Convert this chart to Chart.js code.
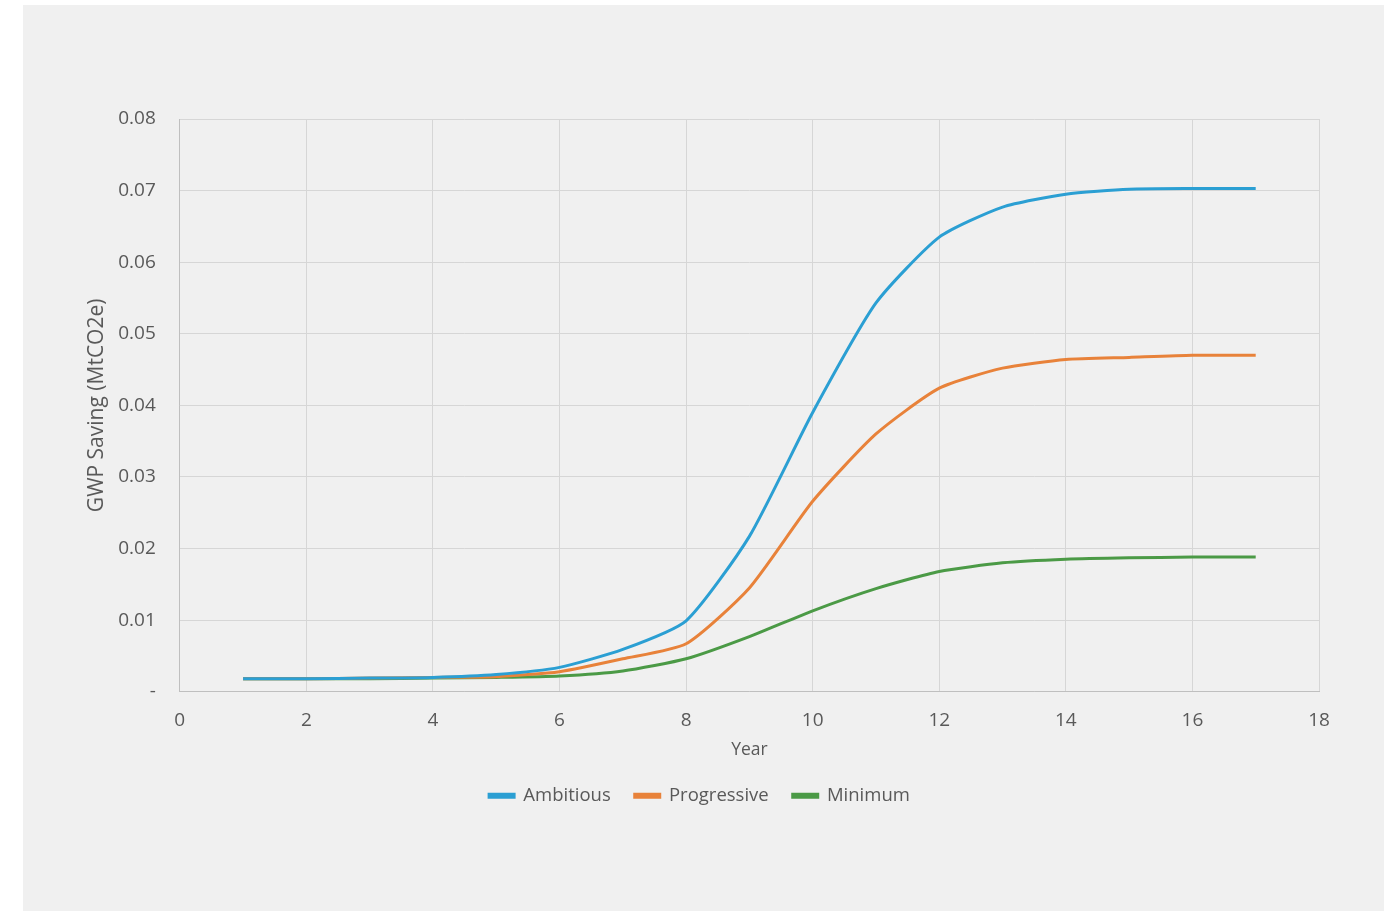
<!DOCTYPE html>
<html>
<head>
  <title>GWP Saving</title>
  <script src="https://cdn.jsdelivr.net/npm/chart.js"></script>
  <style>
    body { margin: 0; background: #fff; }
    #wrap { position: absolute; left: 23px; top: 5px; width: 1361px; height: 906px; background: #f0f0f0; }
  </style>
</head>
<body>
  <div id="wrap"><canvas id="gwpChart"></canvas></div>

  <script>
    const years = [1, 2, 3, 4, 5, 6, 7, 8, 9, 10, 11, 12, 13, 14, 15, 16, 17];
    const ambitious = [0.0018, 0.0018, 0.0019, 0.002, 0.0024, 0.0034, 0.0059, 0.0099, 0.0217, 0.039, 0.0543, 0.0635, 0.0677, 0.0695, 0.0702, 0.0703, 0.0703];
    const progressive = [0.0018, 0.0018, 0.0019, 0.002, 0.0021, 0.0028, 0.0046, 0.0067, 0.0145, 0.0266, 0.036, 0.0424, 0.0452, 0.0464, 0.0467, 0.047, 0.047];
    const minimum = [0.0018, 0.0018, 0.0018, 0.0019, 0.002, 0.0022, 0.0029, 0.0046, 0.0077, 0.0113, 0.0144, 0.0168, 0.018, 0.0185, 0.0187, 0.0188, 0.0188];

    const toPoints = arr => arr.map((v, i) => ({ x: years[i], y: v }));

    Chart.defaults.font.family = '"Open Sans", sans-serif';
    Chart.defaults.font.size = 19;
    Chart.defaults.color = '#595959';

    const ctx = document.getElementById('gwpChart').getContext('2d');
    new Chart(ctx, {
      type: 'line',
      data: {
        datasets: [
          { label: 'Ambitious', data: toPoints(ambitious), borderColor: '#2b9fd3', backgroundColor: '#2b9fd3' },
          { label: 'Progressive', data: toPoints(progressive), borderColor: '#e8823a', backgroundColor: '#e8823a' },
          { label: 'Minimum', data: toPoints(minimum), borderColor: '#4b9a46', backgroundColor: '#4b9a46' }
        ]
      },
      options: {
        responsive: true,
        maintainAspectRatio: false,
        animation: false,
        elements: {
          line: { borderWidth: 3, tension: 0.2 },
          point: { radius: 0 }
        },
        layout: { padding: { left: 57, right: 65, top: 114, bottom: 96 } },
        plugins: {
          tooltip: { enabled: false },
          legend: {
            position: 'bottom',
            labels: { boxWidth: 25, boxHeight: 3, padding: 24, font: { size: 18.5 } }
          }
        },
        scales: {
          x: {
            type: 'linear',
            min: 0, max: 18,
            ticks: { stepSize: 2, padding: 17 },
            grid: { color: '#d6d6d6', drawTicks: false },
            border: { color: '#bfbfbf' },
            title: { display: true, text: 'Year', font: { size: 17.5 }, padding: { top: 7, bottom: 2 } },
            afterFit: scale => { scale.height -= 16; }
          },
          y: {
            min: 0, max: 0.08,
            ticks: {
              stepSize: 0.01, padding: 24,
              callback: v => v === 0 ? '-' : v.toFixed(2)
            },
            grid: { color: '#d6d6d6', drawTicks: false },
            border: { color: '#bfbfbf' },
            title: { display: true, text: 'GWP Saving (MtCO2e)', font: { size: 21 }, padding: { top: 4, bottom: 9 } },
            afterFit: scale => { scale.width -= 24; }
          }
        }
      }
    });
  </script>
</body>
</html>
